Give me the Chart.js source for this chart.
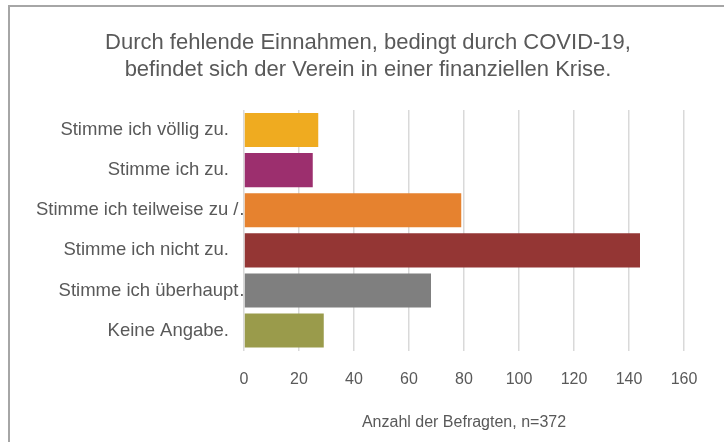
<!DOCTYPE html>
<html>
<head>
<meta charset="utf-8">
<script src="https://cdn.jsdelivr.net/npm/chart.js@4.4.1/dist/chart.umd.min.js"></script>
<style>
  html, body { margin: 0; padding: 0; background: #ffffff; }
  #wrap { width: 724px; height: 442px; position: relative; }
</style>
</head>
<body>
<div id="wrap"><canvas id="c" width="724" height="442"></canvas></div>
<script>
// Antwortkategorien und Anzahl der Befragten (n=372)
const categories = [
  'Stimme ich völlig zu.',
  'Stimme ich zu.',
  'Stimme ich teilweise zu /…',
  'Stimme ich nicht zu.',
  'Stimme ich überhaupt…',
  'Keine Angabe.'
];
const counts = [27, 25, 79, 144, 68, 29];
const barColors = ['#efab20', '#9c2f6e', '#e6822f', '#943634', '#7f7f7f', '#9a9b4b'];
const titleLines = [
  'Durch fehlende Einnahmen, bedingt durch COVID-19,',
  'befindet sich der Verein in einer finanziellen Krise.'
];
const axisTitle = 'Anzahl der Befragten, n=372';
const xMax = 160;
const xStep = 20;

const textColor = '#595959';
const fontFamily = '"Liberation Sans", Arial, sans-serif';

// Rahmen um die Grafik
const framePlugin = {
  id: 'frame',
  beforeDraw(chart) {
    const ctx = chart.ctx;
    ctx.save();
    ctx.fillStyle = '#ffffff';
    ctx.fillRect(0, 0, chart.width, chart.height);
    ctx.strokeStyle = '#a6a6a6';
    ctx.lineWidth = 2;
    ctx.strokeRect(9, 6, chart.width + 20, chart.height + 20);
    ctx.restore();
  }
};

// Zweizeiliger Diagrammtitel, mittig über dem Rahmen
const headingPlugin = {
  id: 'heading',
  afterDraw(chart) {
    const ctx = chart.ctx;
    ctx.save();
    ctx.fillStyle = textColor;
    ctx.font = '22px ' + fontFamily;
    ctx.textAlign = 'center';
    ctx.textBaseline = 'middle';
    titleLines.forEach((line, i) => ctx.fillText(line, 368, 43 + i * 27));
    ctx.restore();
  }
};

new Chart(document.getElementById('c'), {
  type: 'bar',
  data: {
    labels: categories,
    datasets: [{
      data: counts,
      backgroundColor: barColors,
      borderWidth: 0,
      barPercentage: 0.85,
      categoryPercentage: 1.0
    }]
  },
  options: {
    indexAxis: 'y',
    responsive: false,
    animation: false,
    devicePixelRatio: 1,
    layout: { padding: { left: 0, right: 40, top: 110, bottom: 0 } },
    plugins: {
      legend: { display: false },
      tooltip: { enabled: false },
      title: { display: false }
    },
    scales: {
      x: {
        min: 0,
        max: xMax,
        ticks: {
          stepSize: xStep,
          color: textColor,
          font: { family: fontFamily, size: 16 },
          padding: 19,
          maxRotation: 0
        },
        grid: { color: '#d9d9d9', lineWidth: 1.5, drawTicks: false },
        border: { display: false },
        title: {
          display: true,
          text: axisTitle,
          color: textColor,
          font: { family: fontFamily, size: 16 },
          padding: { top: 5, bottom: 10 }
        }
      },
      y: {
        z: 1,
        ticks: {
          color: textColor,
          font: { family: fontFamily, size: 18.5 },
          padding: 15,
          autoSkip: false
        },
        grid: { display: false, drawTicks: false },
        border: { display: false },
        afterFit(scale) { scale.width = 244; },
        afterUpdate(scale) {
          // Beschriftungen nicht auf die Achsenbreite beschneiden
          scale._computeLabelArea = () => undefined;
          // gekürzte Beschriftungen (mit „…“) ragen etwas weiter nach rechts
          const compute = scale._computeLabelItems.bind(scale);
          scale._computeLabelItems = (area) => {
            const items = compute(area);
            items.forEach((item, i) => {
              if (String(categories[i]).endsWith('…')) item.options.translation[0] += 14;
            });
            return items;
          };
        }
      }
    }
  },
  plugins: [framePlugin, headingPlugin]
});
</script>
</body>
</html>
